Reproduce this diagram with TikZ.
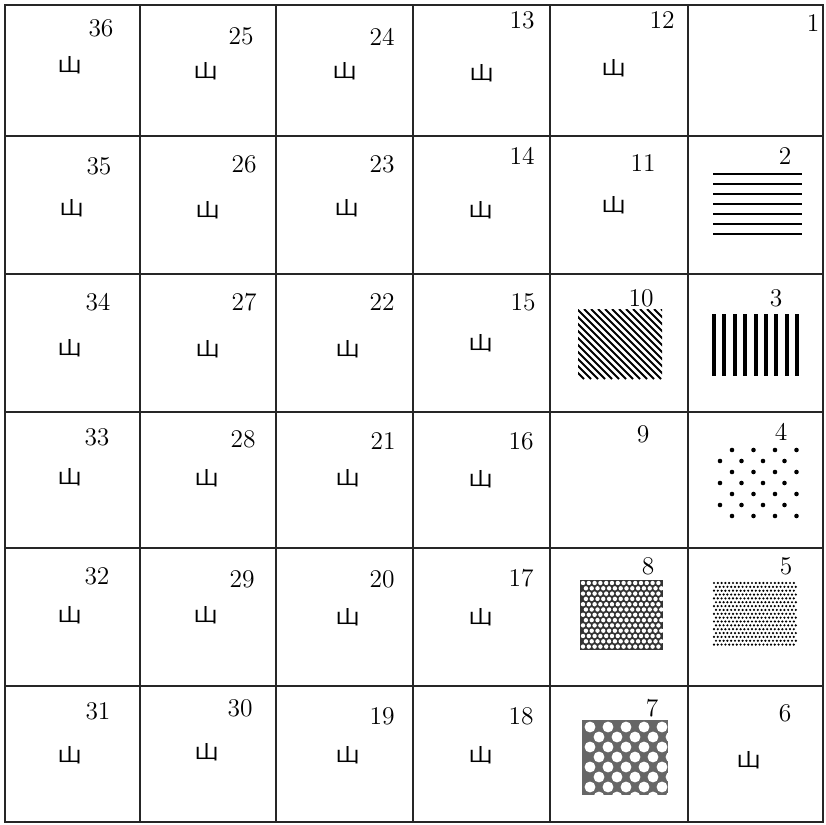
\documentclass[tikz,border=0pt]{standalone}
\usepackage{fontspec}
\newfontfamily\cjk{Noto Sans CJK SC}
\tikzset{
	gridline/.style={line width=1.5pt, black!85},
	num/.style={font=\fontsize{14.5}{16}\selectfont, inner sep=0pt},
	shan/.style={font=\cjk\fontsize{11}{12}\selectfont, inner sep=0pt},
}
\newcommand{\shanzi}{\scalebox{1.3}[1]{山}}
\begin{document}
\begin{tikzpicture}[x=0.02cm, y=-0.02cm]
		\useasboundingbox (0,0) rectangle (826,825);

		% grid
		\draw[gridline] (5,5) rectangle (823,822);
		\draw[gridline] (140,5) -- (140,822);
		\draw[gridline] (276,5) -- (276,822);
		\draw[gridline] (413,5) -- (413,822);
		\draw[gridline] (550,5) -- (550,822);
		\draw[gridline] (688,5) -- (688,822);
		\draw[gridline] (5,136) -- (823,136);
		\draw[gridline] (5,274) -- (823,274);
		\draw[gridline] (5,412) -- (823,412);
		\draw[gridline] (5,548) -- (823,548);
		\draw[gridline] (5,686) -- (823,686);

		% row 1
		\node[num] (n36) at (101,28) {36};
		\node[num] (n25) at (241,36) {25};
		\node[num] (n24) at (382,37) {24};
		\node[num] (n13) at (522,20) {13};
		\node[num] (n12) at (662,20) {12};
		\node[num] (n1) at (813,23) {1};
		\node[shan] (m36) at (70,65) {\shanzi};
		\node[shan] (m25) at (206,71) {\shanzi};
		\node[shan] (m24) at (345,71) {\shanzi};
		\node[shan] (m13) at (482,73) {\shanzi};
		\node[shan] (m12) at (614,68) {\shanzi};

		% row 2
		\node[num] (n35) at (99,166) {35};
		\node[num] (n26) at (244,164) {26};
		\node[num] (n23) at (382,164) {23};
		\node[num] (n14) at (522,156) {14};
		\node[num] (n11) at (643,163) {11};
		\node[num] (n2) at (785,156) {2};
		\node[shan] (m35) at (72,208) {\shanzi};
		\node[shan] (m26) at (208,210) {\shanzi};
		\node[shan] (m23) at (347,208) {\shanzi};
		\node[shan] (m14) at (481,210) {\shanzi};
		\node[shan] (m11) at (614,205) {\shanzi};

		% row 3
		\node[num] (n34) at (98,302) {34};
		\node[num] (n27) at (244,302) {27};
		\node[num] (n22) at (382,302) {22};
		\node[num] (n15) at (523,302) {15};
		\node[num] (n10) at (641,298) {10};
		\node[num] (n3) at (776,298) {3};
		\node[shan] (m34) at (70,348) {\shanzi};
		\node[shan] (m27) at (208,349) {\shanzi};
		\node[shan] (m22) at (348,349) {\shanzi};
		\node[shan] (m15) at (481,343) {\shanzi};

		% row 4
		\node[num] (n33) at (97,437) {33};
		\node[num] (n28) at (243,439) {28};
		\node[num] (n21) at (383,441) {21};
		\node[num] (n16) at (521,441) {16};
		\node[num] (n9) at (643,434) {9};
		\node[num] (n4) at (781,432) {4};
		\node[shan] (m33) at (70,477) {\shanzi};
		\node[shan] (m28) at (207,478) {\shanzi};
		\node[shan] (m21) at (348,478) {\shanzi};
		\node[shan] (m16) at (481,479) {\shanzi};

		% row 5
		\node[num] (n32) at (97,576) {32};
		\node[num] (n29) at (242,579) {29};
		\node[num] (n20) at (382,579) {20};
		\node[num] (n17) at (521,578) {17};
		\node[num] (n8) at (648,566) {8};
		\node[num] (n5) at (786,566) {5};
		\node[shan] (m32) at (70,615) {\shanzi};
		\node[shan] (m29) at (206,615) {\shanzi};
		\node[shan] (m20) at (348,617) {\shanzi};
		\node[shan] (m17) at (481,617) {\shanzi};

		% row 6
		\node[num] (n31) at (98,711) {31};
		\node[num] (n30) at (240,708) {30};
		\node[num] (n19) at (382,716) {19};
		\node[num] (n18) at (521,716) {18};
		\node[num] (n7) at (652,708) {7};
		\node[num] (n6) at (785,713) {6};
		\node[shan] (m31) at (70,755) {\shanzi};
		\node[shan] (m30) at (207,752) {\shanzi};
		\node[shan] (m19) at (348,755) {\shanzi};
		\node[shan] (m18) at (481,755) {\shanzi};
		\node[shan] (m6) at (749,760) {\shanzi};

		% 2: horizontal bars
		\foreach \y in {174,184,...,234}
			\draw[line width=1.6pt] (713,\y) -- (802,\y);

		% 3: vertical bars
		\foreach \i in {0,...,8}
			\draw[line width=2.2pt] (714+10.4*\i,314) -- (714+10.4*\i,376);

		% 10: diagonal hatching
		\begin{scope}
			\clip (578,309) rectangle (662,379);
			\foreach \x in {500,507,...,670}
				\draw[line width=1.1pt] (\x,309) -- (\x+70,379);
		\end{scope}

		% 4: coarse dots
		\foreach \r in {0,...,6} {
			\pgfmathsetmacro{\dx}{mod(\r,2)==0 ? 732 : 720}
			\foreach \c in {0,...,3}
				\fill (\dx+21.5*\c,450+11*\r) circle (1.3pt);
		}

		% 5: fine dots
		\foreach \r in {0,...,16} {
			\pgfmathsetmacro{\dx}{mod(\r,2)==0 ? 714 : 716}
			\foreach \c in {0,...,21}
				\fill (\dx+3.8*\c,583+3.85*\r) circle (0.7pt);
		}

		% 8: dark field with small holes
		\fill[black!80] (580,580) rectangle (663,650);
		\foreach \r in {0,...,12} {
			\pgfmathsetmacro{\dx}{mod(\r,2)==0 ? 583 : 585.9}
			\foreach \c in {0,...,13}
				\fill[white] (\dx+5.8*\c,583+5.3*\r) circle (1.25pt);
		}

		% 7: net of round holes
		\begin{scope}
			\clip (582,720) rectangle (668,795);
			\fill[black!60] (582,720) rectangle (668,795);
			\foreach \r in {0,...,7} {
				\pgfmathsetmacro{\dx}{mod(\r,2)==0 ? 590 : 599}
				\foreach \c in {0,...,4}
					\fill[white] (\dx+18*\c,727+10*\r) circle (3.1pt);
			}
		\end{scope}
	\end{tikzpicture}
\end{document}
